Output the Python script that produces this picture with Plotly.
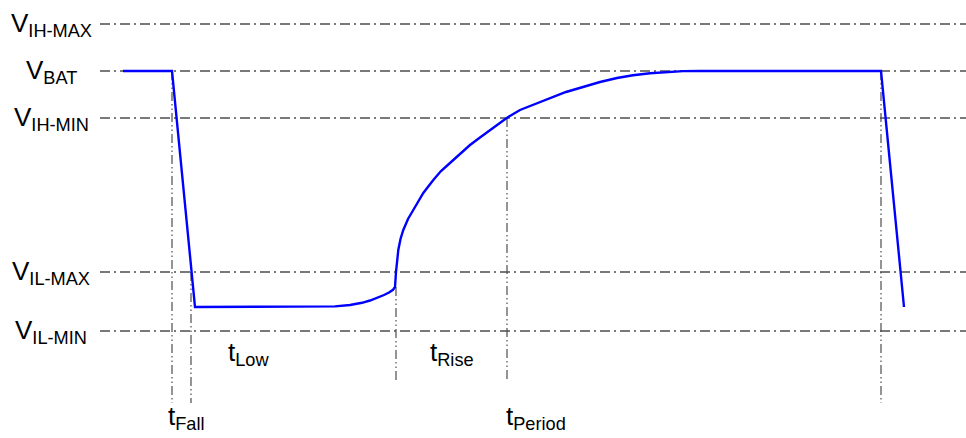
import plotly.graph_objects as go

# Voltage levels (plot units, downward axis)
level_names = ["V<sub>IH-MAX</sub>", "V<sub>BAT</sub>", "V<sub>IH-MIN</sub>", "V<sub>IL-MAX</sub>", "V<sub>IL-MIN</sub>"]
level_values = [24, 71, 118, 272, 331]

# Waveform samples (time, level)
wave_t = [123, 172, 195, 320, 335, 350, 362, 370, 378, 384, 389, 393, 395,
          396, 398.3, 400.5, 403.3, 408, 413.3, 418, 423.3, 433.3, 441, 450, 460, 470,
          480, 490, 498, 506.7, 520, 535, 550, 566, 583, 600, 617, 633, 650, 667, 683, 700,
          881, 904]
wave_v = [71, 71, 307, 307, 306.4, 305, 302.8, 300.5, 297.8, 295, 292.5, 289.8, 287,
          272, 250, 239, 230, 219, 210, 201.5, 193, 180, 171, 163, 154, 145,
          137.5, 130, 124, 118, 110, 104, 98, 92, 87, 82, 78, 75.2, 73.2, 71.8, 71.1, 71,
          71, 307]

# Timing markers: (time, top, bottom)
marker_t = [172, 191, 396, 507, 881]
marker_top = [71, 272, 287, 118, 71]
marker_bottom = [403, 403, 380, 380, 403]

# Timing labels
time_labels = ["t<sub>Fall</sub>", "t<sub>Low</sub>", "t<sub>Rise</sub>", "t<sub>Period</sub>"]
time_label_t = [186, 248, 452, 536]
time_label_v = [417, 353, 353, 417]

FONT = "Liberation Sans, Arial, sans-serif"

fig = go.Figure()

for v in level_values:
    fig.add_trace(go.Scatter(x=[100, 966], y=[v, v], mode="lines",
                             line=dict(color="#4d4d4d", width=1.3, dash="10px,4px,2px,4px"),
                             hoverinfo="skip", showlegend=False))

for t, a, b in zip(marker_t, marker_top, marker_bottom):
    fig.add_trace(go.Scatter(x=[t, t], y=[a, b], mode="lines",
                             line=dict(color="#4d4d4d", width=1.2, dash="9px,3px,1.5px,3px,1.5px,3px"),
                             hoverinfo="skip", showlegend=False))

fig.add_trace(go.Scatter(x=wave_t, y=wave_v, mode="lines",
                         line=dict(color="#0000ff", width=2.4),
                         hoverinfo="skip", showlegend=False))

for name, v in zip(level_names, level_values):
    fig.add_annotation(x=51, y=v, text=name, showarrow=False, xanchor="center", yanchor="middle",
                       font=dict(family=FONT, size=26, color="#000000"))

for name, t, v in zip(time_labels, time_label_t, time_label_v):
    fig.add_annotation(x=t, y=v, text=name, showarrow=False, xanchor="center", yanchor="middle",
                       font=dict(family=FONT, size=26, color="#000000"))

fig.update_layout(
    width=966, height=438, margin=dict(l=0, r=0, t=0, b=0),
    plot_bgcolor="white", paper_bgcolor="white",
    xaxis=dict(range=[0, 966], visible=False, fixedrange=True),
    yaxis=dict(range=[438, 0], visible=False, fixedrange=True),
)

fig.write_html("out.html", config={"displayModeBar": False},
               post_script="document.body.style.margin='0';document.body.style.overflow='hidden';")
